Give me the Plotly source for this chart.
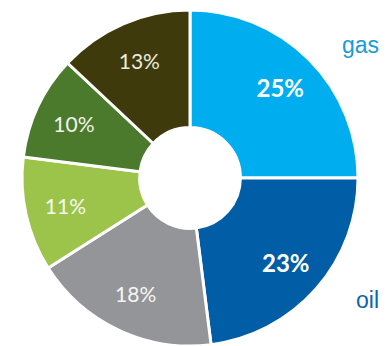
import plotly.graph_objects as go

categories = ["gas", "oil", "other 1", "other 2", "other 3", "other 4"]
values = [25, 23, 18, 11, 10, 13]
pct_labels = ["25%", "23%", "18%", "11%", "10%", "13%"]
colors = ["#00AEEF", "#005DA6", "#939598", "#9CC44A", "#4B7A2C", "#3E3A0C"]
text_colors = ["#FFFFFF", "#FFFFFF", "#F5F5F5", "#F6F9EE", "#F0F4EA", "#ECEADF"]
text_weights = [700, 700, 400, 400, 400, 400]
text_sizes = [24, 24, 21, 21, 21, 21]

W, H = 387, 346
cx, cy, R = 190, 178, 168
domain = dict(x=[(cx - R) / W, (cx + R) / W], y=[(H - cy - R) / H, (H - cy + R) / H])

# Filled donut
fig = go.Figure(go.Pie(
    labels=categories, values=values,
    textinfo="none", sort=False, direction="clockwise", rotation=0,
    hole=0.30,
    marker=dict(colors=colors, line=dict(color="white", width=3)),
    showlegend=False, hoverinfo="label+percent", domain=domain,
))

# Transparent ring carrying the percentage labels further out
fig.add_trace(go.Pie(
    labels=categories, values=values, text=pct_labels,
    textinfo="text", textposition="inside", insidetextorientation="horizontal",
    sort=False, direction="clockwise", rotation=0,
    hole=0.52,
    marker=dict(colors=["rgba(0,0,0,0)"] * len(values), line=dict(width=0)),
    textfont=dict(family="Lato", size=text_sizes, color=text_colors, weight=text_weights),
    showlegend=False, hoverinfo="skip", domain=domain,
))

fig.add_annotation(text="gas", x=360 / W, y=1 - 45 / H, xref="paper", yref="paper",
                   xanchor="center", yanchor="middle", showarrow=False,
                   font=dict(family="Liberation Sans", size=23, color="#1A9BD7"))
fig.add_annotation(text="oil", x=367 / W, y=1 - 300 / H, xref="paper", yref="paper",
                   xanchor="center", yanchor="middle", showarrow=False,
                   font=dict(family="Liberation Sans", size=23, color="#0F64AE"))

fig.update_layout(width=W, height=H, margin=dict(l=0, r=0, t=0, b=0),
                  paper_bgcolor="white", plot_bgcolor="white")
fig.write_html("out.html")
